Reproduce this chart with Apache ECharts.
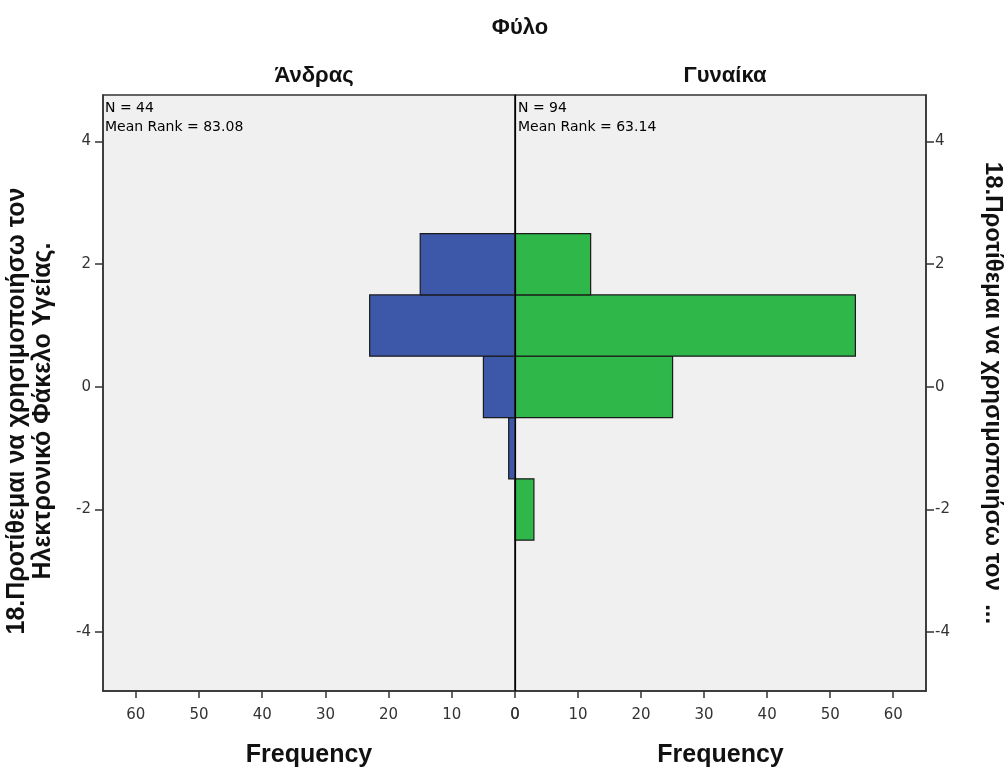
<!DOCTYPE html>
<html>
<head>
<meta charset="utf-8">
<script src="https://cdn.jsdelivr.net/npm/echarts@6/dist/echarts.min.js"></script>
<style>
html,body{margin:0;padding:0;background:#fff}
#chart{width:1004px;height:769px}
</style>
</head>
<body>
<div id="chart"></div>
<script>
// bins of the response scale (bin centre) and frequency per gender
const bins = [-2, -1, 0, 1, 2]
const male = [0, 1, 5, 23, 15]
const female = [3, 0, 25, 54, 12]
const yTicks = [-4, -2, 0, 2, 4]
const xTicks = [0, 10, 20, 30, 40, 50, 60]
const panelNames = ['Άνδρας', 'Γυναίκα']
const notes = ['N = 44\nMean Rank = 83.08', 'N = 94\nMean Rank = 63.14']

const font = 'Liberation Sans'
const tickFont = 'DejaVu Sans'
const yName = '18.Προτίθεμαι να χρησιμοποιήσω τον\nΗλεκτρονικό Φάκελο Υγείας.'
const yNameRight = '18.Προτίθεμαι να χρησιμοποιήσω τον  ...'

function histData(counts){
    return bins.map((b, i) => [counts[i], b]).filter(d => d[0] > 0)
}

function renderBar(color){
    return function(params, api){
        let n = api.value(0), c = api.value(1)
        let p0 = api.coord([0, c + 0.5])
        let p1 = api.coord([n, c - 0.5])
        let x = Math.min(p0[0], p1[0])
        return {
            type: 'rect',
            shape: {x: x, y: p0[1], width: Math.abs(p1[0] - p0[0]), height: p1[1] - p0[1]},
            style: {fill: color, stroke: '#1a1a1a', lineWidth: 1.2}
        }
    }
}

function xAxis(idx, inverse){
    return {
        type: 'value', gridIndex: idx, min: 0, max: 65.2, inverse: inverse,
        name: 'Frequency', nameLocation: 'middle', nameGap: 52,
        nameTextStyle: {fontFamily: font, fontWeight: 'bold', fontSize: 25, color: '#111'},
        axisLine: {show: true, onZero: false, lineStyle: {color: '#333', width: 1.5}},
        axisTick: {show: true, length: 7, customValues: xTicks, lineStyle: {color: '#333', width: 1.5}},
        axisLabel: {customValues: xTicks, fontFamily: tickFont, fontSize: 15, color: '#333', margin: 17},
        splitLine: {show: false}
    }
}

function yAxis(idx, pos){
    let left = pos === 'left'
    return {
        type: 'value', gridIndex: idx, position: pos, min: -4.96, max: 4.76,
        name: left ? yName : yNameRight, nameLocation: 'middle',
        nameRotate: left ? 90 : -90, nameGap: left ? 47 : 54,
        nameTextStyle: {fontFamily: font, fontWeight: 'bold', fontSize: left ? 25 : 24, color: '#111',
            lineHeight: 26, padding: left ? [0, 36, 0, 0] : 0},
        axisLine: {show: true, onZero: false, lineStyle: {color: '#333', width: 1.5}},
        axisTick: {show: true, length: 8, customValues: yTicks, lineStyle: {color: '#333', width: 1.5}},
        axisLabel: {customValues: yTicks, fontFamily: tickFont, fontSize: 15, color: '#333', margin: left ? 12 : 9},
        splitLine: {show: false}
    }
}

let option = {
    backgroundColor: '#fff',
    animation: false,
    title: [
        {text: 'Φύλο', left: 515, top: 12, textAlign: 'center',
         textStyle: {fontFamily: font, fontWeight: 'bold', fontSize: 22, color: '#111'}},
        {text: panelNames[0], left: 309, top: 60, textAlign: 'center',
         textStyle: {fontFamily: font, fontWeight: 'bold', fontSize: 22, color: '#111'}},
        {text: panelNames[1], left: 720, top: 60, textAlign: 'center',
         textStyle: {fontFamily: font, fontWeight: 'bold', fontSize: 22, color: '#111'}},
        {text: notes[0], left: 105, top: 99, padding: 0,
         textStyle: {fontFamily: tickFont, fontWeight: 'normal', fontSize: 14, color: '#000', lineHeight: 19}},
        {text: notes[1], left: 518, top: 99, padding: 0,
         textStyle: {fontFamily: tickFont, fontWeight: 'normal', fontSize: 14, color: '#000', lineHeight: 19}}
    ],
    grid: [
        {left: 103, top: 95, width: 412, height: 596, show: true, outerBoundsMode: 'none',
         backgroundColor: '#f0f0f0', borderColor: '#333', borderWidth: 1.5},
        {left: 515, top: 95, width: 411, height: 596, show: true, outerBoundsMode: 'none',
         backgroundColor: '#f0f0f0', borderColor: '#333', borderWidth: 1.5}
    ],
    xAxis: [xAxis(0, true), xAxis(1, false)],
    yAxis: [yAxis(0, 'left'), yAxis(1, 'right')],
    series: [
        {
            type: 'custom', name: panelNames[0], xAxisIndex: 0, yAxisIndex: 0,
            renderItem: renderBar('#3d57a9'), data: histData(male), z: 3
        },
        {
            type: 'custom', name: panelNames[1], xAxisIndex: 1, yAxisIndex: 1,
            renderItem: renderBar('#2fb74a'), data: histData(female), z: 3,
            markLine: {
                silent: true, symbol: 'none', label: {show: false}, z: 5,
                lineStyle: {color: '#000', type: 'solid', width: 1.2},
                data: [{xAxis: 0}]
            }
        }
    ]
}

let mychart = echarts.init(document.getElementById('chart'))
mychart.setOption(option)
</script>
</body>
</html>
